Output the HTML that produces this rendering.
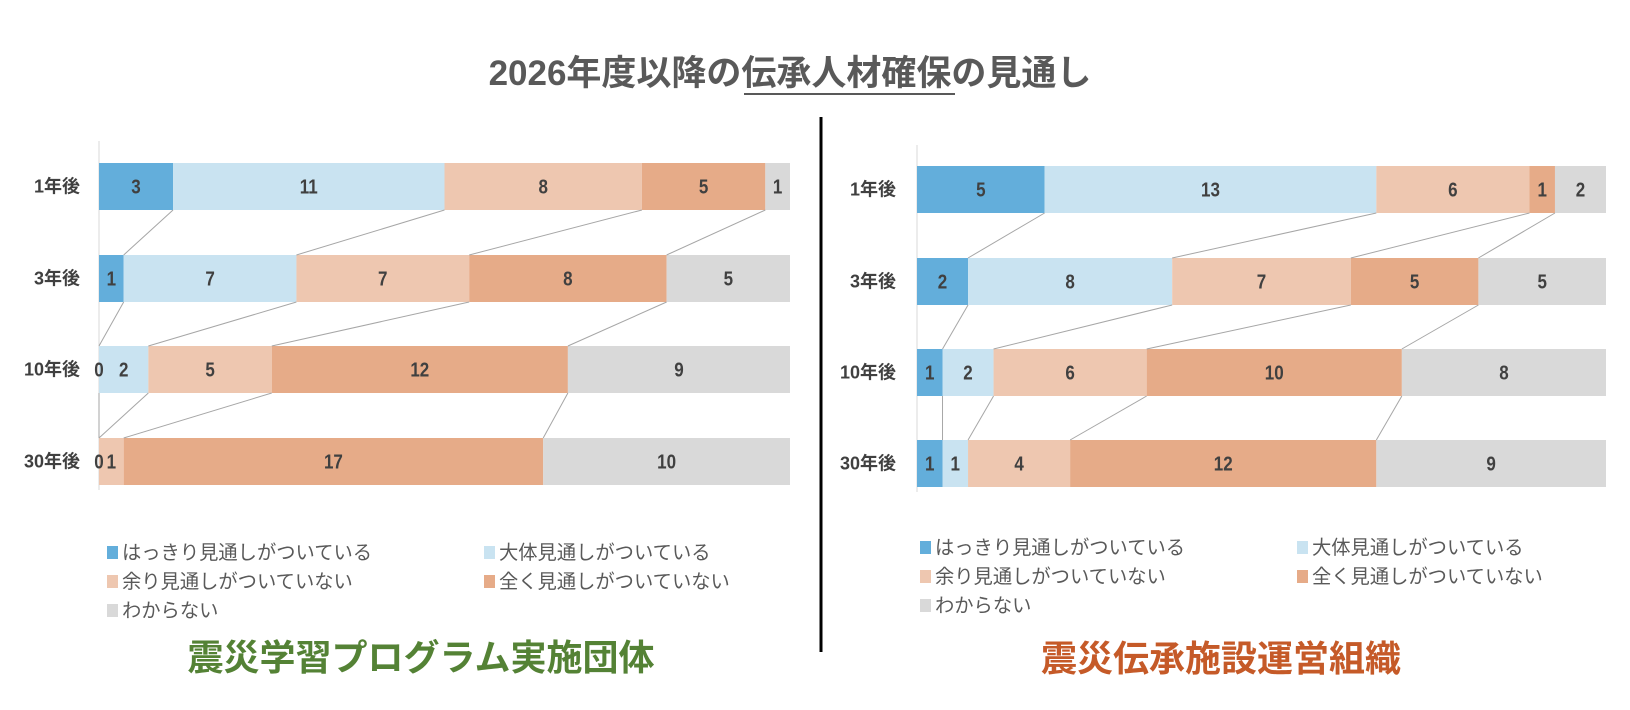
<!DOCTYPE html>
<html><head><meta charset="utf-8"><style>
body{margin:0;background:#fff;}
svg{display:block;font-family:"Liberation Sans","Noto Sans CJK JP",sans-serif;}
</style></head><body>
<svg id="s" width="1630" height="710" xmlns="http://www.w3.org/2000/svg">
<text x="790" y="85" text-anchor="middle" font-size="35" font-weight="bold" fill="#595959">2026年度以降の伝承人材確保の見通し</text>
<line x1="744" y1="94" x2="955" y2="94" stroke="#595959" stroke-width="2"/>
<line x1="821" y1="117" x2="821" y2="652" stroke="#000" stroke-width="3"/>
<g id="c"></g>
<text x="421" y="670" text-anchor="middle" font-size="36" font-weight="bold" fill="#548235">震災学習プログラム実施団体</text>
<text x="1221" y="671" text-anchor="middle" font-size="36" font-weight="bold" fill="#C55A28">震災伝承施設運営組織</text>
</svg>
<script>
const cols=["#63AEDB","#C9E3F1","#EEC7B0","#E6AB88","#D9D9D9"];
const names=["はっきり見通しがついている","大体見通しがついている","余り見通しがついていない","全く見通しがついていない","わからない"];
const rows=["1年後","3年後","10年後","30年後"];
function chart(x0,x1,ys,h,axTop,axBot,data,total,labX,legX,legX2,legY,skip){
 let s='',t='';const u=(x1-x0)/total;
 s+=`<line x1="${x0}" y1="${axTop}" x2="${x0}" y2="${axBot}" stroke="#d9d9d9"/>`;
 const bounds=[];
 data.forEach((r,i)=>{let x=x0;const b=[];const y=ys[i];
  r.forEach((v,j)=>{const w=v*u;s+=`<rect x="${x}" y="${y}" width="${w}" height="${h}" fill="${cols[j]}"/>`;
   if(!(skip&&skip[i]&&skip[i].includes(j)))t+=`<text x="${x+w/2}" y="${y+h/2+7}" text-anchor="middle" font-size="20" font-weight="bold" fill="#404040" transform="translate(${x+w/2} 0) scale(0.85 1) translate(${-(x+w/2)} 0)">${v}</text>`;
   x+=w;b.push(x);});
  bounds.push(b);
  t+=`<text x="${labX}" y="${y+h/2+6}" text-anchor="end" font-size="18" font-weight="bold" fill="#404040">${rows[i]}</text>`;
 });
 for(let i=0;i<3;i++)for(let j=0;j<4;j++)s+=`<line x1="${bounds[i][j]}" y1="${ys[i]+h}" x2="${bounds[i+1][j]}" y2="${ys[i+1]}" stroke="#a6a6a6" stroke-width="1"/>`;
 names.forEach((n,k)=>{const lx=k%2?legX2:legX;const ly=legY+Math.floor(k/2)*29;
  s+=`<rect x="${lx}" y="${ly-7}" width="11" height="13" fill="${cols[k]}"/><text x="${lx+15}" y="${ly+6}" font-size="19.3" fill="#595959">${n}</text>`;});
 return s+t;
}
let g='';
g+=chart(99,790,[163,255,346,438],47,141,490,[[3,11,8,5,1],[1,7,7,8,5],[0,2,5,12,9],[0,0,1,17,10]],28,80,107,484,553,[null,null,null,[1]]);
g+=chart(917,1606,[166,258,349,440],47,145,492,[[5,13,6,1,2],[2,8,7,5,5],[1,2,6,10,8],[1,1,4,12,9]],27,896,920,1297,548,null);
document.getElementById('c').innerHTML=g;
</script>
</body></html>
